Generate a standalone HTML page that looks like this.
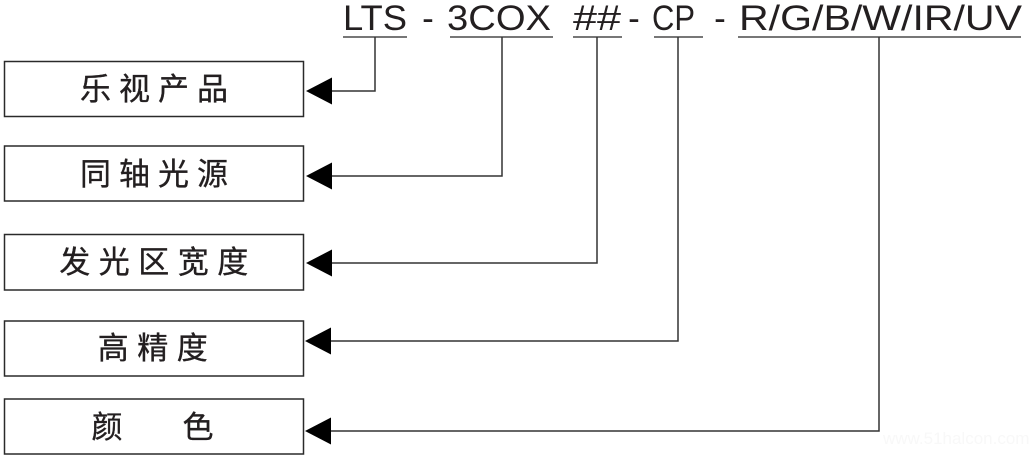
<!DOCTYPE html>
<html>
<head>
<meta charset="utf-8">
<style>
  html,body{margin:0;padding:0;background:#fff;}
  svg{display:block;}
  .t{font-family:"Liberation Sans",Arial,sans-serif;font-size:35px;fill:#231f20;}
  .c{font-family:"Liberation Sans","Noto Sans CJK SC","WenQuanYi Zen Hei",sans-serif;font-size:31px;fill:#231f20;stroke:#231f20;stroke-width:0.35;}
</style>
</head>
<body>
<svg width="1029" height="457" viewBox="0 0 1029 457" xmlns="http://www.w3.org/2000/svg">
  <!-- top code -->
  <text class="t" x="343" y="30" textLength="64" lengthAdjust="spacingAndGlyphs">LTS</text>
  <text class="t" x="428" y="30" text-anchor="middle">-</text>
  <text class="t" x="447" y="30" textLength="104" lengthAdjust="spacingAndGlyphs">3COX</text>
  <text class="t" x="573" y="30" textLength="48" lengthAdjust="spacingAndGlyphs">##</text>
  <text class="t" x="634" y="30" text-anchor="middle">-</text>
  <text class="t" x="652" y="30" textLength="43" lengthAdjust="spacingAndGlyphs">CP</text>
  <text class="t" x="720" y="30" text-anchor="middle">-</text>
  <text class="t" x="739" y="30" textLength="283" lengthAdjust="spacingAndGlyphs">R/G/B/W/IR/UV</text>

  <!-- underlines -->
  <g stroke="#4a4a4a" stroke-width="1.6">
    <line x1="343" y1="37" x2="407" y2="37"/>
    <line x1="450" y1="37" x2="553" y2="37"/>
    <line x1="573" y1="37" x2="622" y2="37"/>
    <line x1="654" y1="37" x2="703" y2="37"/>
    <line x1="738" y1="37" x2="1021" y2="37"/>
  </g>

  <!-- connectors -->
  <g fill="none" stroke="#333" stroke-width="1.5">
    <polyline points="375,37 375,91 330,91"/>
    <polyline points="502,37 502,176 330,176"/>
    <polyline points="597,37 597,263 330,263"/>
    <polyline points="678,37 678,341 330,341"/>
    <polyline points="879,37 879,431 330,431"/>
  </g>
  <!-- arrowheads -->
  <g fill="#000">
    <polygon points="306,91 332,77.5 332,104.5"/>
    <polygon points="306,176 332,162.5 332,189.5"/>
    <polygon points="306,263 332,249.5 332,276.5"/>
    <polygon points="305,341 331,327.5 331,354.5"/>
    <polygon points="305,431 331,417.5 331,444.5"/>
  </g>

  <!-- boxes -->
  <g fill="none" stroke="#2a2a2a" stroke-width="1.5">
    <rect x="4.5" y="61.5" width="299" height="55"/>
    <rect x="4.5" y="146" width="299" height="55"/>
    <rect x="4.5" y="234.5" width="299" height="55.5"/>
    <rect x="4.5" y="321" width="299" height="55"/>
    <rect x="4.5" y="399" width="299" height="55"/>
  </g>

  <!-- labels -->
  <text class="c" x="158" y="100" text-anchor="middle" letter-spacing="8">乐视产品</text>
  <text class="c" x="158" y="185" text-anchor="middle" letter-spacing="8">同轴光源</text>
  <text class="c" x="158" y="273" text-anchor="middle" letter-spacing="8.5">发光区宽度</text>
  <text class="c" x="157" y="359" text-anchor="middle" letter-spacing="8.5">高精度</text>
  <text class="c" x="107" y="438" text-anchor="middle">颜</text>
  <text class="c" x="198" y="438" text-anchor="middle">色</text>

  <!-- faint watermark -->
  <text x="883" y="444" font-family="Liberation Sans, sans-serif" font-size="17" fill="#f8f8f8">www.51halcon.com</text>
</svg>
</body>
</html>
